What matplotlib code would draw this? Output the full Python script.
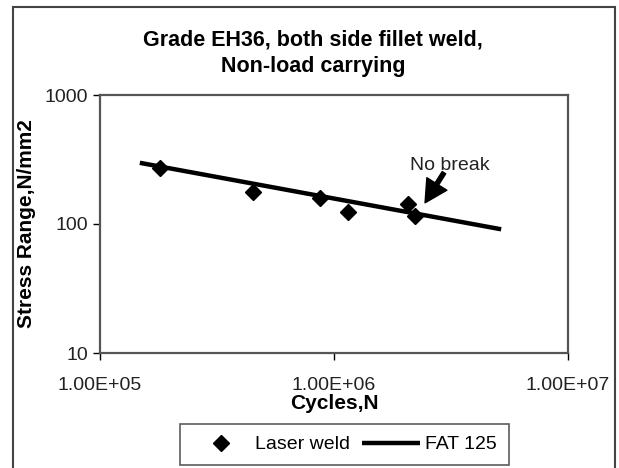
import matplotlib
matplotlib.use("Agg")
import matplotlib.pyplot as plt
from matplotlib.patches import Rectangle

plt.rcParams['font.family'] = ['Liberation Sans', 'DejaVu Sans']

# test points (laser weld)
cycles = [1.80e5, 4.51e5, 8.7e5, 1.15e6, 2.07e6, 2.22e6]
stress = [270, 176, 158, 123, 143, 116]

# FAT 125 design curve end points
fat_cycles = [1.48e5, 5.18e6]
fat_stress = [298, 91]

x_ticks = [1e5, 1e6, 1e7]
x_tick_labels = ['1.00E+05', '1.00E+06', '1.00E+07']
y_ticks = [10, 100, 1000]
y_tick_labels = ['10', '100', '1000']

fig = plt.figure(figsize=(6.19, 4.68), dpi=100)
W, H = 619, 468

# outer chart frame
fig.patches.append(Rectangle((13 / W, -0.05), (615 - 13) / W, 1.05 - 7 / H,
                             transform=fig.transFigure, fill=False,
                             edgecolor='#444444', linewidth=1.5))

ax = fig.add_axes([100 / W, 1 - 353 / H, (568 - 100) / W, (353 - 95) / H])
ax.set_xscale('log')
ax.set_yscale('log')
ax.set_xlim(1e5, 1e7)
ax.set_ylim(10, 1000)

ax.plot(fat_cycles, fat_stress, color='black', linewidth=3.2, label='FAT 125',
        solid_capstyle='butt')
ax.plot(cycles, stress, linestyle='none', marker='D', markersize=8,
        color='black', label='Laser weld')

# "No break" note with arrow pointing at the run-out point
ax.text(3.13e6, 284, 'No break', ha='center', va='center', fontsize=14,
        color='#222222')
ax.annotate('', xy=(2.45e6, 146), xytext=(2.95e6, 250),
            arrowprops=dict(facecolor='black', edgecolor='black', width=3,
                            headwidth=17, headlength=16, shrink=0))

ax.set_xticks(x_ticks)
ax.set_xticklabels(x_tick_labels)
ax.set_yticks(y_ticks)
ax.set_yticklabels(y_tick_labels)
ax.minorticks_off()
ax.tick_params(axis='both', direction='out', length=5, width=1, labelsize=14,
               color='black', labelcolor='#222222')
ax.tick_params(axis='x', pad=12)

for side in ['top', 'right', 'left', 'bottom']:
    ax.spines[side].set_linestyle((0, (1, 1)))
    ax.spines[side].set_color('#555555')
    ax.spines[side].set_linewidth(1.6)

ax.set_xlabel('Cycles,N', fontsize=15, fontweight='bold', labelpad=0)
ax.set_ylabel('Stress Range,N/mm2', fontsize=15, fontweight='bold', labelpad=6)

fig.text(313 / W, 1 - 40 / H, 'Grade EH36, both side fillet weld,',
         ha='center', va='center', fontsize=15.5, fontweight='bold')
fig.text(313 / W, 1 - 67 / H, 'Non-load carrying',
         ha='center', va='center', fontsize=15.5, fontweight='bold')

handles, labels = ax.get_legend_handles_labels()
leg = fig.legend(handles[::-1], labels[::-1], ncol=2, loc='center',
                 bbox_to_anchor=(344.5 / W, 1 - 444.5 / H), fontsize=14,
                 frameon=True, fancybox=False, edgecolor='#333333',
                 handlelength=3.0, columnspacing=0.6, handletextpad=0.25,
                 borderpad=0.6, borderaxespad=0)
leg.get_frame().set_linewidth(1.2)

fig.savefig('out.png', dpi=100)
